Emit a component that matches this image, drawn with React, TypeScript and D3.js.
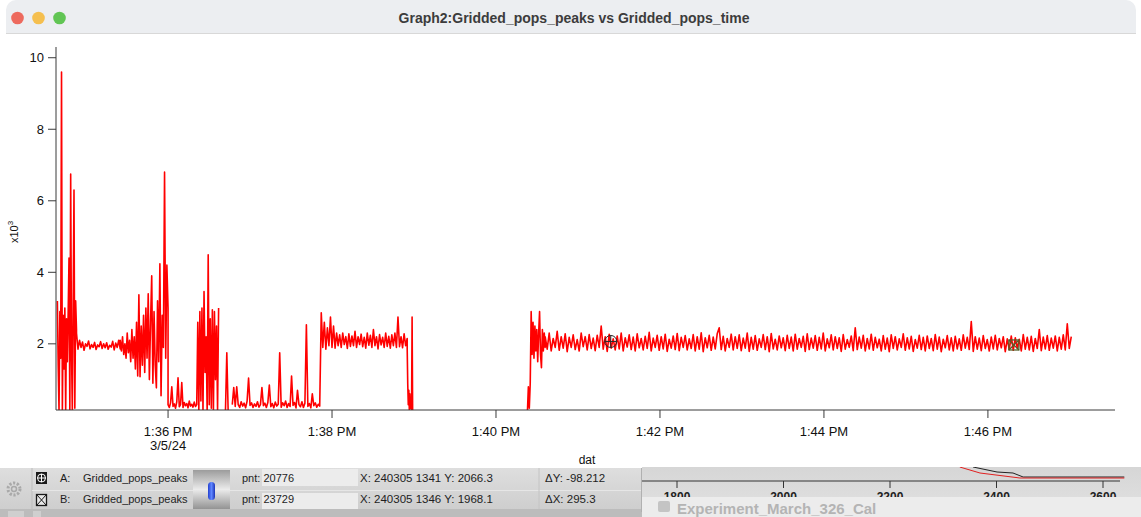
import { useMemo } from "react";
import * as d3 from "d3";

const WIDTH = 1141;
const HEIGHT = 517;
const PLOT = { left: 56, right: 1115, top: 47, bottom: 410 };

const DAY = "2024-03-05 ";
const parseTime = d3.timeParse("%Y-%m-%d %H:%M:%S");
const at = (s: string) => parseTime(DAY + s) as Date;

// axes
const xDomain = ["13:34:38", "13:47:33"];
const yDomain = [0.15, 10.3];
const xTickTimes = ["13:36:00", "13:38:00", "13:40:00", "13:42:00", "13:44:00", "13:46:00"];
const yTicks = [2, 4, 6, 8, 10];

// Gridded_pops_peaks, in thousands, one array per stretch of the record
const burstA = [3.2, 1.4, 0.1, 2.9, 1.6, 9.6, 0.1, 2.8, 1.3, 3.0, 0.1, 2.7, 1.5, 2.9, 4.4, 0.1, 6.75, 1.8, 0.1, 3.1, 6.3, 0.2, 3.2, 2.4];
const calmA = [2.3, 1.85, 2.1, 1.9, 2.05, 1.82, 2.0, 1.93, 2.08, 1.86, 1.98, 1.9, 2.04, 1.84, 1.97, 1.92, 2.06, 1.87, 2.0, 1.89, 2.03, 1.85, 1.96, 1.91, 2.07, 1.83, 2.02, 1.9, 2.1, 1.86];
const rampA = [2.1, 1.8, 2.2, 1.7, 2.0, 1.6, 2.3, 1.75, 2.1, 1.5, 2.4, 1.6, 2.2, 1.3, 2.6, 1.1, 3.37, 1.08, 2.5, 1.4, 2.8, 1.2, 3.0, 1.6, 3.4, 1.0, 2.6, 3.9, 0.9, 2.9, 1.4, 0.77, 3.2, 1.5, 4.24, 0.55, 2.8, 1.9, 6.8, 1.6, 4.2, 3.0];
const lowB = [0.3, 0.22, 0.35, 0.8, 0.25, 0.32, 0.2, 0.38, 1.05, 0.24, 0.3, 0.92, 0.22, 0.36, 0.27, 0.33, 0.21, 0.4, 0.26, 0.31, 0.23, 0.37, 0.25, 0.3];
const burstB = [0.3, 2.6, 0.15, 2.9, 0.4, 3.0, 0.1, 3.46, 1.2, 2.2, 0.1, 4.49, 0.3, 2.7, 0.2, 2.95, 0.1, 2.9, 1.0, 2.5, 0.15, 3.0];
const spikeB = [0.1, 1.75, 0.1];
const lowC = [
  0.3, 0.78, 0.25, 0.8, 0.3, 0.22, 0.38, 0.26, 0.34, 0.21, 0.4, 1.04, 0.28, 0.35, 0.22, 0.32, 0.25, 0.38, 0.23, 0.3,
  0.78, 0.27, 0.34, 0.22, 0.36, 0.85, 0.24, 0.33, 0.21, 0.37, 0.26, 0.31, 1.75, 0.23, 0.35, 0.27, 0.4, 0.22, 0.33, 0.25,
  1.1, 0.28, 0.36, 0.21, 0.7, 0.3, 0.24, 0.38, 0.22, 0.34, 2.53, 0.25, 0.33, 0.21, 0.6, 0.27, 0.35, 0.23, 0.31, 0.26,
];
const plateauD = [
  0.3, 2.87, 1.9, 2.6, 1.85, 2.45, 1.95, 2.75, 1.9, 2.5, 1.88, 2.3, 1.95, 2.25, 1.9, 2.3, 1.98, 2.2, 1.87, 2.28,
  1.93, 2.22, 1.95, 2.35, 1.9, 2.2, 1.98, 2.27, 1.92, 2.18, 1.88, 2.3, 1.96, 2.24, 1.9, 2.4, 1.95, 2.2, 1.86, 2.26,
  1.97, 2.18, 1.9, 2.3, 1.93, 2.21, 1.88, 2.25, 1.95, 2.3, 1.9, 2.75, 1.92, 2.2, 1.89, 2.28, 1.95, 2.15,
];
const tailD = [1.9, 0.9, 0.3, 0.7, 0.1, 0.6, 0.2, 0.5, 0.1, 2.75, 0.1];
const riseE = [0.1, 0.8, 0.2, 0.9, 2.9, 1.7, 2.6, 1.6, 2.5, 1.8, 2.4, 1.5, 2.3, 2.9, 1.7, 1.33, 2.4, 1.8, 2.3, 1.9];
const plateauE = [
  2.2, 1.85, 2.3, 1.8, 2.15, 1.9, 2.35, 1.82, 2.2, 1.88, 2.28, 1.78,
  2.18, 1.9, 2.25, 1.84, 2.12, 1.8, 2.3, 1.92, 2.2, 1.83, 2.26, 1.87,
  2.16, 1.81, 2.24, 1.9, 2.5, 1.85, 2.2, 1.79, 2.27, 1.88, 2.14, 1.83,
  2.22, 1.86, 2.3, 1.8, 2.17, 1.91, 2.25, 1.84, 2.19, 1.8, 2.28, 1.89,
  2.15, 1.83, 2.21, 1.87, 2.32, 1.8, 2.16, 1.9, 2.24, 1.82, 2.2, 1.86,
  2.27, 1.79, 2.13, 1.88, 2.22, 1.84, 2.29, 1.81, 2.18, 1.9, 2.23, 1.83,
  2.14, 1.87, 2.26, 1.8, 2.2, 1.85, 2.31, 1.78, 2.17, 1.89, 2.24, 1.82,
  2.19, 1.86, 2.28, 2.45, 1.84, 2.21, 1.8, 2.15, 1.9, 2.27, 1.83, 2.2,
  1.87, 2.25, 1.81, 2.16, 1.88, 2.3, 1.79, 2.18, 1.85, 2.23, 1.82, 2.14,
  1.9, 2.26, 1.84, 2.2, 1.78, 2.29, 1.86, 2.13, 1.83, 2.22, 1.89, 2.17,
  1.81, 2.24, 1.87, 2.19, 1.8, 2.27, 1.85, 2.15, 1.9, 2.21, 1.79, 2.28,
  1.84, 2.16, 1.88, 2.23, 1.82, 2.18, 1.86, 2.3, 1.8, 2.14, 1.89, 2.25,
  1.83, 2.2, 1.87, 2.17, 1.79, 2.26, 1.85, 2.12, 1.9, 2.22, 1.81, 2.45,
  1.84, 2.19, 1.88, 2.24, 1.8, 2.15, 1.86, 2.27, 1.82, 2.18, 1.89, 2.13,
  1.8, 2.23, 1.85, 2.16, 1.78, 2.25, 1.87, 2.2, 1.83, 2.14, 1.9, 2.28,
  1.82, 2.17, 1.86, 2.21, 1.79, 2.12, 1.88, 2.24, 1.84, 2.18, 1.8, 2.22,
  1.87, 2.15, 1.81, 2.26, 1.85, 2.19, 1.78, 2.13, 1.89, 2.23, 1.83, 2.17,
  1.8, 2.21, 1.86, 2.14, 1.82, 2.25, 1.88, 2.18, 1.84, 2.62, 1.79, 2.2,
  1.85, 2.16, 1.81, 2.23, 1.87, 2.12, 1.8, 2.19, 1.86, 2.24, 1.83, 2.15,
  1.89, 2.2, 1.78, 2.14, 1.84, 2.22, 1.82, 2.17, 1.88, 2.13, 1.8, 2.26,
  1.85, 2.18, 1.83, 2.21, 1.79, 2.15, 1.87, 2.4, 1.81, 2.19, 1.86, 2.23,
  1.82, 2.16, 1.88, 2.22, 1.8, 2.18, 1.85, 2.25, 1.83, 2.56, 1.87, 2.2,
];
const segStart = ["13:34:39", "13:34:53", "13:35:25", "13:36:00", "13:36:21", "13:36:42", "13:36:47", "13:37:51", "13:38:55", "13:40:23", "13:40:36"];
const segEnd = ["13:34:53", "13:35:25", "13:36:00", "13:36:21", "13:36:37", "13:36:44", "13:37:51", "13:38:55", "13:38:59", "13:40:36", "13:47:01"];
const segValues = [burstA, calmA, rampA, lowB, burstB, spikeB, lowC, plateauD, tailD, riseE, plateauE];

// cursors
const cursorLabels = ["A", "B"];
const cursorPnts = [20776, 23729];
const cursorTimes = ["13:41:24", "13:46:19"];
const cursorValues = [2066.3, 1968.1];
const deltaY = "-98.212";
const deltaX = "295.3";

// graph window behind
const bgTicks = [1800, 2000, 2200, 2400, 2600];
const bgBlackX = [2356, 2401, 2431, 2450, 2640];
const bgBlackY = [14, 9, 8, 4, 4];
const bgRedX = [2331, 2369, 2444, 2640];
const bgRedY = [14, 8, 3, 3];

const FONT = "'Liberation Sans', Arial, Helvetica, sans-serif";

type Pt = { t: Date; v: number } | null;

const App = () => {
  const xScale = useMemo(
    () => d3.scaleTime().domain(xDomain.map(at)).range([PLOT.left, PLOT.right]),
    []
  );
  const yScale = useMemo(
    () => d3.scaleLinear().domain(yDomain).range([PLOT.bottom, PLOT.top]),
    []
  );

  const points = useMemo(() => {
    const pts: Pt[] = [];
    segValues.forEach((vals, i) => {
      const t0 = +at(segStart[i]);
      const t1 = +at(segEnd[i]);
      if (i > 0 && segStart[i] !== segEnd[i - 1]) pts.push(null);
      vals.forEach((v, j) => {
        pts.push({ t: new Date(t0 + ((t1 - t0) * j) / (vals.length - 1)), v });
      });
    });
    return pts;
  }, []);

  const linePath = d3
    .line<Pt>()
    .defined((d) => d !== null)
    .x((d) => xScale((d as any).t))
    .y((d) => yScale((d as any).v))(points);

  const fmtTime = d3.timeFormat("%-I:%M %p");
  const fmtDate = d3.timeFormat("%-m/%-d/%y");
  const fmtStamp = d3.timeFormat("%y%m%d %H%M");

  const bgX = d3.scaleLinear().domain([1800, 2600]).range([677, 1103]);
  const bgY = d3.scaleLinear().domain([0, 100]).range([481, 381]);
  const bgLine = d3.line<number>();
  const blackPath = bgLine(bgBlackX.map((x, i) => [bgX(x), bgY(bgBlackY[i])] as any));
  const redPath = bgLine(bgRedX.map((x, i) => [bgX(x), bgY(bgRedY[i])] as any));

  const cA = { x: xScale(at(cursorTimes[0])), y: yScale(cursorValues[0] / 1000) };
  const cB = { x: xScale(at(cursorTimes[1])), y: yScale(cursorValues[1] / 1000) };

  const rowY = [482, 503];

  return (
    <svg
      width={WIDTH}
      height={HEIGHT}
      style={{ position: "absolute", left: 0, top: 0, background: "#fff" }}
      fontFamily={FONT}
    >
      <defs>
        <clipPath id="plotClip">
          <rect x={PLOT.left} y={PLOT.top} width={PLOT.right - PLOT.left} height={PLOT.bottom - PLOT.top} />
        </clipPath>
        <clipPath id="bgClip">
          <rect x={642} y={467} width={WIDTH - 642} height={30} />
        </clipPath>
        <linearGradient id="panelGrad" x1="0" x2="0" y1="0" y2="1">
          <stop offset="0" stopColor="#dedede" />
          <stop offset="1" stopColor="#cdcdcd" />
        </linearGradient>
        <linearGradient id="bgGrad" x1="0" x2="0" y1="0" y2="1">
          <stop offset="0" stopColor="#d6d6d6" />
          <stop offset="1" stopColor="#e2e2e2" />
        </linearGradient>
        <linearGradient id="sliderGrad" x1="0" x2="0" y1="0" y2="1">
          <stop offset="0" stopColor="#9c9c9c" />
          <stop offset="0.5" stopColor="#ebebeb" />
          <stop offset="1" stopColor="#939393" />
        </linearGradient>
        <linearGradient id="pillGrad" x1="0" x2="1" y1="0" y2="0">
          <stop offset="0" stopColor="#2340d0" />
          <stop offset="0.5" stopColor="#5f86ff" />
          <stop offset="1" stopColor="#1c35b8" />
        </linearGradient>
      </defs>

      {/* window behind, lower right */}
      <rect x={642} y={467} width={WIDTH - 642} height={HEIGHT - 467} fill="url(#bgGrad)" />
      <rect x={642} y={497} width={WIDTH - 642} height={HEIGHT - 497} fill="#ececec" />
      <g clipPath="url(#bgClip)">
        <line x1={642} x2={1120} y1={481} y2={481} stroke="#333" />
        {bgTicks.map((t) => (
          <g key={t}>
            <line x1={bgX(t)} x2={bgX(t)} y1={481} y2={488} stroke="#333" />
            <text x={bgX(t)} y={501} textAnchor="middle" fontSize={12} fontWeight={700} fill="#222">
              {t}
            </text>
          </g>
        ))}
        <path d={blackPath || ""} fill="none" stroke="#222" strokeWidth={1} />
        <path d={redPath || ""} fill="none" stroke="#e02020" strokeWidth={1} />
      </g>
      <rect x={658} y={501} width={12} height={11} rx={2} fill="#c4c4c4" />
      <text x={677} y={514} fontSize={15} fontWeight={700} fill="#b4b4b4">
        Experiment_March_326_Cal
      </text>

      {/* graph window */}
      <rect x={6} y={0} width={1130} height={467} rx={10} fill="#fff" />
      <path d="M6,10 a10,10 0 0 1 10,-10 H1126 a10,10 0 0 1 10,10 V33 H6 Z" fill="#eceef1" />
      <line x1={6} x2={1136} y1={33.5} y2={33.5} stroke="#d8d8d8" />
      <circle cx={17.5} cy={18} r={6.3} fill="#ed6a5e" />
      <circle cx={38.5} cy={18} r={6.3} fill="#f5bf4f" />
      <circle cx={59.5} cy={18} r={6.3} fill="#61c554" />
      <text x={574} y={22.5} textAnchor="middle" fontSize={14} fontWeight={700} fill="#3c3c3c">
        Graph2:Gridded_pops_peaks vs Gridded_pops_time
      </text>

      {/* data */}
      <path
        d={linePath || ""}
        fill="none"
        stroke="#ff0000"
        strokeWidth={1.6}
        strokeLinejoin="round"
        clipPath="url(#plotClip)"
      />

      {/* axes */}
      <line x1={PLOT.left} x2={PLOT.left} y1={PLOT.top} y2={PLOT.bottom} stroke="#3a3a3a" />
      <line x1={PLOT.left} x2={PLOT.right} y1={PLOT.bottom} y2={PLOT.bottom} stroke="#3a3a3a" />
      {yTicks.map((t) => (
        <g key={t}>
          <line x1={PLOT.left - 8} x2={PLOT.left} y1={yScale(t)} y2={yScale(t)} stroke="#3a3a3a" />
          <text x={PLOT.left - 12} y={yScale(t)} dy="0.35em" textAnchor="end" fontSize={13} fill="#111">
            {t}
          </text>
        </g>
      ))}
      {xTickTimes.map((s, i) => {
        const x = xScale(at(s));
        return (
          <g key={s}>
            <line x1={x} x2={x} y1={PLOT.bottom} y2={PLOT.bottom + 8} stroke="#3a3a3a" />
            <text x={x} y={436} textAnchor="middle" fontSize={13} fill="#111">
              {fmtTime(at(s))}
            </text>
            {i === 0 && (
              <text x={x} y={450} textAnchor="middle" fontSize={13} fill="#111">
                {fmtDate(at(s))}
              </text>
            )}
          </g>
        );
      })}
      <text transform="translate(18,232) rotate(-90)" textAnchor="middle" fontSize={11} fill="#111">
        x10<tspan dy={-5} fontSize={8}>3</tspan>
      </text>
      <text x={587} y={464} textAnchor="middle" fontSize={12} fill="#111">
        dat
      </text>

      {/* cursors */}
      <g stroke="#2a2a2a" strokeWidth={1} fill="none">
        <circle cx={cA.x} cy={cA.y} r={6} />
        <line x1={cA.x - 6} x2={cA.x + 6} y1={cA.y} y2={cA.y} />
        <line x1={cA.x} x2={cA.x} y1={cA.y - 6} y2={cA.y + 6} />
      </g>
      <g stroke="#55602a" strokeWidth={1.3} fill="none">
        <rect x={cB.x - 5} y={cB.y - 5} width={10} height={10} />
        <line x1={cB.x - 5} x2={cB.x + 5} y1={cB.y - 5} y2={cB.y + 5} />
        <line x1={cB.x + 5} x2={cB.x - 5} y1={cB.y - 5} y2={cB.y + 5} />
      </g>

      {/* cursor info panel */}
      <rect x={0} y={468} width={642} height={44} fill="url(#panelGrad)" />
      <rect x={0} y={509} width={642} height={8} fill="#bcbcbc" />
      <rect x={8} y={511} width={16} height={6} fill="#cfcfcf" />
      <rect x={33} y={511} width={8} height={6} fill="#cfcfcf" />
      <line x1={32} x2={32} y1={468} y2={509} stroke="#bdbdbd" />
      <circle cx={14} cy={489} r={6} fill="none" stroke="#a9a9a9" strokeWidth={3} strokeDasharray="2.2 1.6" />
      <circle cx={14} cy={489} r={2.5} fill="none" stroke="#a9a9a9" strokeWidth={1.5} />
      <rect x={262} y={469} width={96} height={17} fill="#ececec" />
      <rect x={262} y={493} width={96} height={16} fill="#ececec" />
      <line x1={32} x2={642} y1={490.5} y2={490.5} stroke="#e6e6e6" />
      <line x1={539} x2={539} y1={468} y2={509} stroke="#c4c4c4" />
      <line x1={641.5} x2={641.5} y1={468} y2={512} stroke="#b0b0b0" />
      <rect x={193} y={470} width={37} height={39} fill="url(#sliderGrad)" />
      <rect x={208} y={482} width={7} height={18} rx={3.5} fill="url(#pillGrad)" />

      {/* cursor icons */}
      <rect x={36} y={472} width={11} height={12} fill="#1a1a1a" />
      <circle cx={41.5} cy={478} r={4} fill="none" stroke="#fff" />
      <line x1={37.5} x2={45.5} y1={478} y2={478} stroke="#fff" />
      <line x1={41.5} x2={41.5} y1={474} y2={482} stroke="#fff" />
      <rect x={36.5} y={494.5} width={10} height={11} fill="#e8e8e8" stroke="#1a1a1a" strokeWidth={1.3} />
      <line x1={37} x2={46} y1={495} y2={505} stroke="#1a1a1a" />
      <line x1={46} x2={37} y1={495} y2={505} stroke="#1a1a1a" />

      <g fontSize={11} fill="#1e1e1e">
        {cursorLabels.map((lab, i) => (
          <g key={lab}>
            <text x={60} y={rowY[i]}>{lab}:</text>
            <text x={83} y={rowY[i]}>Gridded_pops_peaks</text>
            <text x={242} y={rowY[i]}>pnt: {cursorPnts[i]}</text>
            <text x={360} y={rowY[i]} fontSize={11.5}>
              X: {fmtStamp(at(cursorTimes[i]))}  Y: {cursorValues[i]}
            </text>
          </g>
        ))}
        <text x={545} y={rowY[0]} fontSize={11.5}>ΔY: {deltaY}</text>
        <text x={545} y={rowY[1]} fontSize={11.5}>ΔX: {deltaX}</text>
      </g>
    </svg>
  );
};

export default App;
